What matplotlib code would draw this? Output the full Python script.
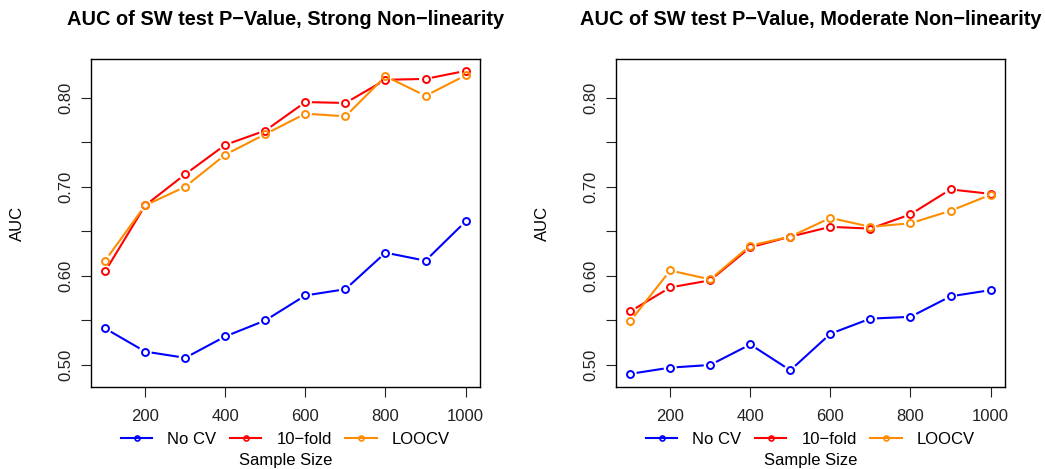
import numpy as np
import matplotlib
matplotlib.use("Agg")
import matplotlib.pyplot as plt
from matplotlib.collections import LineCollection

plt.rcParams['font.family'] = ['Liberation Sans', 'DejaVu Sans']

# Data
sample_size = [100, 200, 300, 400, 500, 600, 700, 800, 900, 1000]

strong_nocv = [0.541, 0.515, 0.508, 0.532, 0.550, 0.578, 0.585, 0.626, 0.617, 0.661]
strong_10fold = [0.605, 0.679, 0.714, 0.747, 0.763, 0.795, 0.794, 0.820, 0.821, 0.830]
strong_loocv = [0.617, 0.679, 0.700, 0.736, 0.759, 0.782, 0.779, 0.824, 0.802, 0.825]

moderate_nocv = [0.490, 0.497, 0.500, 0.523, 0.494, 0.535, 0.552, 0.554, 0.577, 0.584]
moderate_10fold = [0.560, 0.587, 0.595, 0.632, 0.644, 0.655, 0.653, 0.669, 0.697, 0.692]
moderate_loocv = [0.549, 0.606, 0.596, 0.634, 0.644, 0.665, 0.655, 0.659, 0.673, 0.691]

titles = ["AUC of SW test P\u2212Value, Strong Non\u2212linearity",
          "AUC of SW test P\u2212Value, Moderate Non\u2212linearity"]
labels = ["No CV", "10\u2212fold", "LOOCV"]
colors = ["#0000ff", "#ff0000", "#ff8c00"]

y_ticks = [0.50, 0.55, 0.60, 0.65, 0.70, 0.75, 0.80]
y_ticklabels = ["0.50", "", "0.60", "", "0.70", "", "0.80"]
x_ticks = [200, 400, 600, 800, 1000]

W, H = 1045, 469
fig = plt.figure(figsize=(W / 100, H / 100), dpi=100)


def draw_series(ax, x, y, color, label, gap=6.5):
    # open circles
    ax.plot(x, y, linestyle='none', marker='o', ms=5, mew=1.4,
            mfc='none', mec=color)
    # R type="b": lines stop short of the points
    pts = ax.transData.transform(np.column_stack([x, y]))
    inv = ax.transData.inverted()
    segs = []
    for p0, p1 in zip(pts[:-1], pts[1:]):
        d = p1 - p0
        L = np.hypot(d[0], d[1])
        if L > 2 * gap:
            u = d / L
            segs.append(inv.transform(np.array([p0 + u * gap, p1 - u * gap])))
    ax.add_collection(LineCollection(segs, colors=color, linewidths=1.5))
    # proxy handle for the legend
    ax.plot([], [], color=color, lw=1.5, marker='o', ms=3.6, mew=1.2,
            mfc='none', mec=color, label=label)


panels = [
    (90.7, [strong_nocv, strong_10fold, strong_loocv]),
    (615.7, [moderate_nocv, moderate_10fold, moderate_loocv]),
]

for i, (left_px, series) in enumerate(panels):
    ax = fig.add_axes([left_px / W, 1 - 386.7 / H, 389.3 / W, 327.4 / H])
    ax.set_xlim(64, 1036)
    ax.set_ylim(0.4756, 0.843)

    for ys, c, lab in zip(series, colors, labels):
        draw_series(ax, sample_size, ys, c, lab)

    ax.set_xticks(x_ticks)
    ax.set_yticks(y_ticks)
    ax.set_yticklabels(y_ticklabels, rotation=90, va='center')
    ax.tick_params(axis='both', direction='out', length=7.2, width=0.8,
                   labelsize=12, colors='#222222')
    ax.tick_params(axis='x', pad=9)
    ax.tick_params(axis='y', pad=5)
    for s in ax.spines.values():
        s.set_linewidth(1.0)
        s.set_color('black')

    ax.set_title(titles[i], fontsize=14.4, fontweight='bold', pad=25)
    ax.set_ylabel("AUC", fontsize=12)
    ax.yaxis.set_label_coords(-0.187, 0.5)
    ax.yaxis.label.set_va('center')
    ax.set_xlabel("Sample Size", fontsize=12)
    ax.xaxis.set_label_coords(0.5, -0.224)
    ax.xaxis.label.set_va('center')

    ax.legend(loc='center', bbox_to_anchor=(0.5, -0.16), ncol=3,
              frameon=False, fontsize=12, handlelength=1.9,
              handletextpad=0.9, columnspacing=0.8, borderpad=0,
              borderaxespad=0)

fig.savefig("out.png", dpi=100)
